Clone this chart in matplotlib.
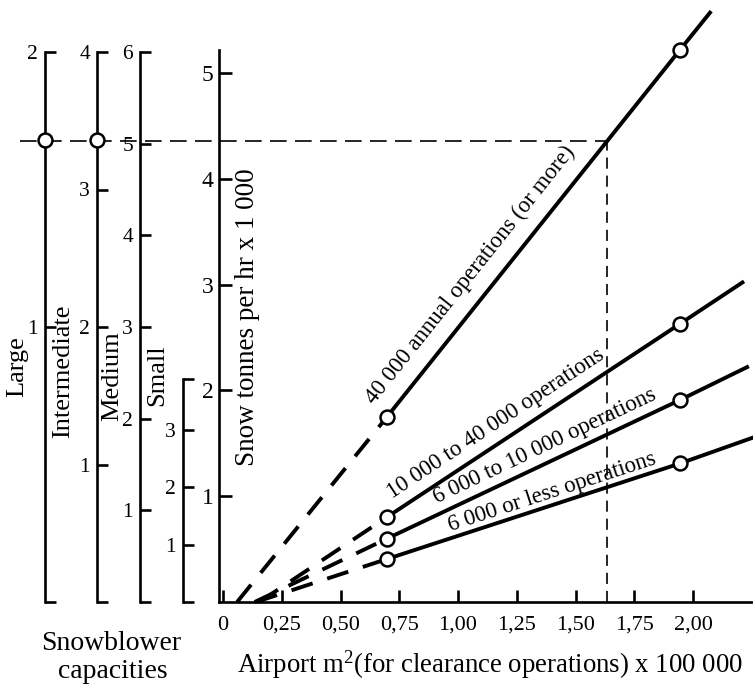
import matplotlib.pyplot as plt

plt.rcParams["font.family"] = ["Liberation Serif", "DejaVu Serif"]
plt.rcParams["mathtext.fontset"] = "custom"
plt.rcParams["mathtext.rm"] = "Liberation Serif"
plt.rcParams["mathtext.it"] = "Liberation Serif:italic"
plt.rcParams["lines.scale_dashes"] = False

W, H = 753, 687

# x: airport m2 x 100 000, y: snow tonnes per hr x 1 000
AREA_TICKS = [0, 0.25, 0.5, 0.75, 1.0, 1.25, 1.5, 1.75, 2.0]
AREA_LABELS = ["0", "0,25", "0,50", "0,75", "1,00", "1,25", "1,50", "1,75", "2,00"]
SNOW_TICKS = [1, 2, 3, 4, 5]

LINE_LABELS = [
    "40 000 annual operations (or more)",
    "10 000 to 40 000 operations",
    "6 000 to 10 000 operations",
    "6 000 or less operations",
]
# each line: dashed start on the x axis, lower circle, upper circle, end of line
LINE_X = [
    [0.06, 0.696, 1.945, 2.072],
    [0.155, 0.696, 1.945, 2.21],
    [0.135, 0.696, 1.945, 2.23],
    [0.14, 0.696, 1.945, 2.25],
]
LINE_Y = [
    [0.0, 1.745, 5.22, 5.57],
    [0.0, 0.80, 2.63, 3.02],
    [0.0, 0.597, 1.91, 2.22],
    [0.0, 0.405, 1.31, 1.55],
]

# worked example (dashed guide)
GUIDE_AREA = 1.634
GUIDE_SNOW = 4.36
GUIDE_LEFT = -0.864

# snowblower capacity scales on the left
SCALE_NAMES = ["Large", "Intermediate", "Medium", "Small"]
SCALE_MAX = [2, 4, 6, 3.88]
SCALE_TICKS = [[1, 2], [1, 2, 3, 4], [1, 2, 3, 4, 5, 6], [1, 2, 3]]
SCALE_READING = [1.68, 3.36, None, None]


def px(x, y):
    return x / W, 1 - y / H


def draw_scales(fig):
    lefts = [45, 97, 140, 183]
    name_pos = [(17, 367), (63, 371), (112, 376), (157, 375)]
    for name, top, ticks, reading, left, npos in zip(
            SCALE_NAMES, SCALE_MAX, SCALE_TICKS, SCALE_READING, lefts, name_pos):
        height = 550 if top in ticks else 223
        sax = fig.add_axes([left / W, 85 / H, 0.02, height / H])
        sax.patch.set_visible(False)
        for s in ["top", "right", "bottom"]:
            sax.spines[s].set_visible(False)
        sax.spines["left"].set_linewidth(1.9)
        sax.set_xlim(0, 1)
        sax.set_ylim(0, top)
        sax.set_xticks([])
        all_ticks = [0] + ticks + ([] if top in ticks else [top])
        labels = [""] + [str(t) for t in ticks] + ([] if top in ticks else [""])
        sax.set_yticks(all_ticks)
        sax.set_yticklabels(labels, fontsize=15.5)
        sax.tick_params(axis="y", direction="in", length=8, width=1.9, pad=5)
        if reading is not None:
            sax.plot([0], [reading], "o", ms=10, mfc="white", mec="black",
                     mew=1.8, clip_on=False, zorder=5)
        fig.text(*px(*npos), name, rotation=90, ha="center", va="center",
                 fontsize=19)


def plot_nomogram():
    fig = plt.figure(figsize=(W / 100, H / 100), dpi=100)
    ax = fig.add_axes([219 / W, 85 / H, 534 / W, 552 / H])
    ax.patch.set_visible(False)
    ax.set_xlim(-0.017, 2.255)
    ax.set_ylim(0, 5.217)
    for s in ["top", "right"]:
        ax.spines[s].set_visible(False)
    for s in ["left", "bottom"]:
        ax.spines[s].set_linewidth(1.9)

    ax.set_xticks(AREA_TICKS)
    ax.set_xticklabels(AREA_LABELS, fontsize=16)
    ax.set_yticks(SNOW_TICKS)
    ax.set_yticklabels([str(t) for t in SNOW_TICKS], fontsize=17)
    ax.tick_params(axis="x", direction="in", length=9, width=1.9, pad=10)
    ax.tick_params(axis="y", direction="in", length=9, width=1.9, pad=4)

    for xs, ys in zip(LINE_X, LINE_Y):
        ax.plot(xs[:2], ys[:2], color="black", lw=2.8, dashes=(16, 11),
                dash_capstyle="butt", clip_on=False)
        ax.plot(xs[1:], ys[1:], color="black", lw=2.8, clip_on=False)
        ax.plot(xs[1:3], ys[1:3], "o", ms=10, mfc="white", mec="black",
                mew=1.8, clip_on=False, zorder=5)

    ax.plot([GUIDE_LEFT, GUIDE_AREA], [GUIDE_SNOW, GUIDE_SNOW], color="black",
            lw=1.2, dashes=(12, 6), clip_on=False)
    ax.plot([GUIDE_AREA, GUIDE_AREA], [0, GUIDE_SNOW], color="black",
            lw=1.2, dashes=(8, 5), clip_on=False)

    # labels along the lines
    label_pos = [(1.051, 3.09, 51.5), (1.162, 1.69, 33.5),
                 (1.370, 1.47, 25.4), (1.40, 1.04, 18.1)]
    for text, (x, y, rot) in zip(LINE_LABELS, label_pos):
        ax.text(x, y, text, rotation=rot, rotation_mode="anchor",
                ha="center", va="center", fontsize=16.5)

    fig.text(*px(247, 317), "Snow tonnes per hr x 1 000", rotation=90,
             ha="center", va="center", fontsize=19.5)
    fig.text(*px(490, 665), r"Airport m$^2$(for clearance operations) x 100 000",
             ha="center", va="center", fontsize=19.3)
    fig.text(*px(111, 643), "Snowblower", ha="center", va="center", fontsize=20)
    fig.text(*px(113, 672), "capacities", ha="center", va="center", fontsize=20)

    draw_scales(fig)

    plt.savefig("out.png", dpi=100)


if __name__ == "__main__":
    plot_nomogram()
